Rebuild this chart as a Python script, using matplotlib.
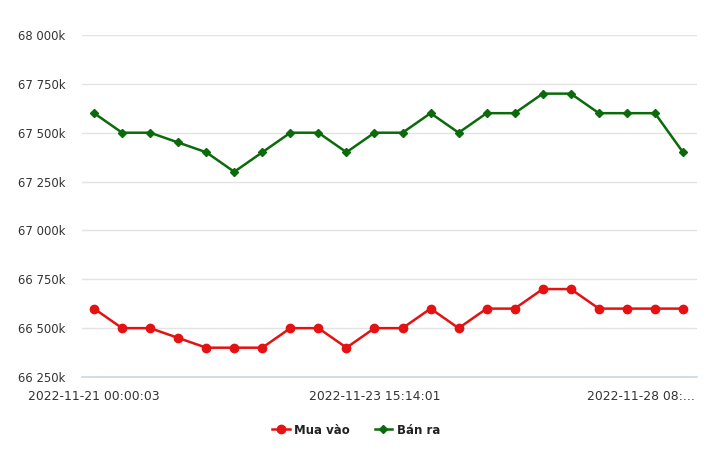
import matplotlib
matplotlib.use("Agg")
import matplotlib.pyplot as plt
import matplotlib.transforms as mtransforms
from matplotlib.ticker import FuncFormatter, FixedLocator

idx = list(range(22))
buy = [66600, 66500, 66500, 66450, 66400, 66400, 66400, 66500, 66500, 66400, 66500,
       66500, 66600, 66500, 66600, 66600, 66700, 66700, 66600, 66600, 66600, 66600]
sell = [67600, 67500, 67500, 67450, 67400, 67300, 67400, 67500, 67500, 67400, 67500,
        67500, 67600, 67500, 67600, 67600, 67700, 67700, 67600, 67600, 67600, 67400]
xtick_pos = [0, 10, 20]
xtick_labels = ["2022-11-21 00:00:03", "2022-11-23 15:14:01", "2022-11-28 08:..."]
yticks = [66250, 66500, 66750, 67000, 67250, 67500, 67750, 68000]

RED = "#e41212"
GREEN = "#0b6b0b"

fig = plt.figure(figsize=(7.2, 4.59), dpi=100)
ax = fig.add_axes([82/720, 1 - 377/459, (697-82)/720, (377-35)/459])

ax.plot(idx, buy, color=RED, lw=1.8, marker="o", ms=6, label="Mua vào", zorder=3)
ax.plot(idx, sell, color=GREEN, lw=1.8, marker="D", ms=4.5, label="Bán ra", zorder=3)

ax.set_xlim(-0.43, 21.5)
ax.set_ylim(66250, 68000)
ax.yaxis.set_major_locator(FixedLocator(yticks))
ax.yaxis.set_major_formatter(FuncFormatter(lambda v, p: f"{int(v)//1000} {int(v)%1000:03d}k"))
ax.grid(axis="y", color="#e3e3e3", lw=1)
ax.set_axisbelow(True)
for s in ["top", "right", "left"]:
    ax.spines[s].set_visible(False)
ax.spines["bottom"].set_color("#ccd6eb")
ax.spines["bottom"].set_linewidth(1.2)

ax.set_xticks(xtick_pos)
ax.set_xticklabels(xtick_labels)
ax.tick_params(axis="x", length=0, pad=9, labelsize=8.9, labelcolor="#333333")
ax.tick_params(axis="y", length=0, pad=12, labelsize=8.4, labelcolor="#333333")

last = ax.get_xticklabels()[-1]
last.set_transform(last.get_transform() + mtransforms.ScaledTranslation(-14/100, 0, fig.dpi_scale_trans))

leg = ax.legend(loc="center", bbox_to_anchor=(0.446, -(430-377)/342), ncol=2, frameon=False,
                fontsize=8.5, handlelength=1.45, columnspacing=2.1, handletextpad=0.4)
for t in leg.get_texts():
    t.set_fontweight("bold")
    t.set_color("#222222")

fig.savefig("out.png", dpi=100)
